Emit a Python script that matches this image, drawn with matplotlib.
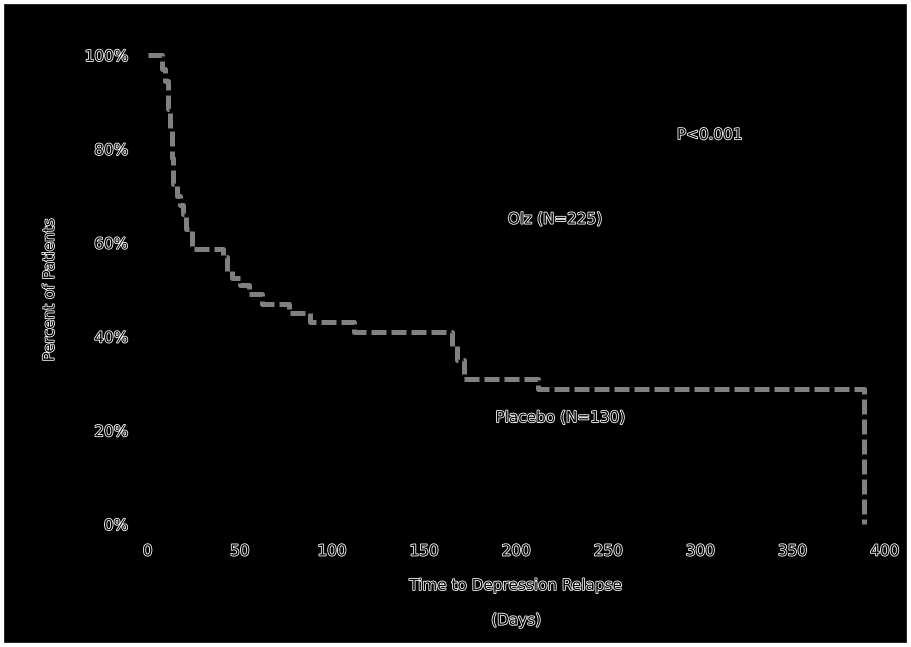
import matplotlib.pyplot as plt
import matplotlib.patheffects as pe

# placebo survival curve (days, percent)
days = [0, 6.5, 8, 9.5, 11, 12, 13, 14, 16, 17.5, 19, 21, 24, 41, 43, 46, 50, 55, 62, 72,
        77, 88, 112, 163, 165, 168, 172, 212, 389, 389]
pct = [100, 100, 97, 94.5, 88.5, 83.7, 78, 72.6, 70, 68, 66, 63, 58.6, 57, 54, 52.5, 51, 49,
       47, 47, 45, 43, 41, 41, 38, 35, 31, 28.7, 28.7, 0]
y_ticks = [0, 20, 40, 60, 80, 100]
x_ticks = [0, 50, 100, 150, 200, 250, 300, 350, 400]

fx = [pe.withStroke(linewidth=1.2, foreground='white')]

fig = plt.figure(figsize=(9.11, 6.47), dpi=100, facecolor='black')
ax = fig.add_axes([0.162, 0.19, 0.809, 0.725], facecolor='black')
ax.step(days, pct, where='post', color='#808080', lw=3.6, ls=(0, (3, 1)), clip_on=False)

ax.set_xlim(0, 400)
ax.set_ylim(0, 100)
for s in ax.spines.values():
    s.set_visible(False)
ax.tick_params(length=0, pad=14)
ax.set_xticks(x_ticks)
ax.set_yticks(y_ticks)
ax.set_yticklabels([f'{v}%' for v in y_ticks])
for lab in ax.get_xticklabels() + ax.get_yticklabels():
    lab.set_color('black')
    lab.set_fontsize(11)
    lab.set_path_effects(fx)

ax.set_xlabel('Time to Depression Relapse\n\n(Days)', color='black', fontsize=11,
              labelpad=14, path_effects=fx)
ax.set_ylabel('Percent of Patients', color='black', fontsize=11, labelpad=20, path_effects=fx)

ax.text(305, 83, 'P<0.001', color='black', fontsize=11, ha='center', va='center', path_effects=fx)
ax.text(221, 65, 'Olz (N=225)', color='black', fontsize=11, ha='center', va='center', path_effects=fx)
ax.text(224, 22.7, 'Placebo (N=130)', color='black', fontsize=11, ha='center', va='center', path_effects=fx)

fig.patches.append(plt.Rectangle((0, 0), 1, 1, transform=fig.transFigure, fill=False,
                                 edgecolor='white', lw=6))
fig.savefig('out.png', facecolor='black')
